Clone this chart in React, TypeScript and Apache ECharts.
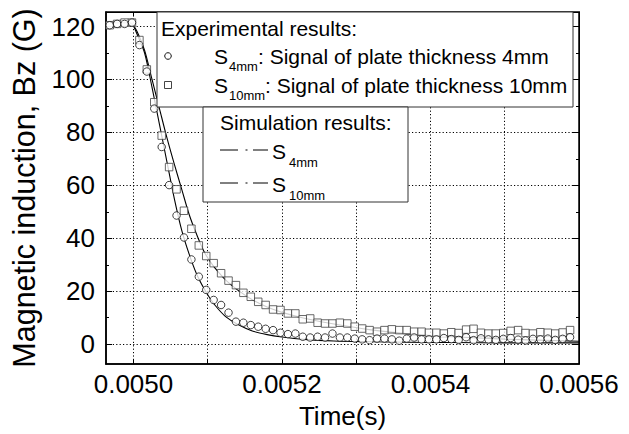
import React, { useEffect, useRef } from "react";
import * as echarts from "echarts";

// ---- data ----
const expTime = [
  0.004968, 0.004978, 0.004988, 0.004998, 0.005008, 0.005018, 0.005028, 0.005038, 0.005048, 0.005058,
  0.005068, 0.005078, 0.005088, 0.005098, 0.005108, 0.005118, 0.005128, 0.005138, 0.005148, 0.005158,
  0.005168, 0.005178, 0.005188, 0.005198, 0.005208, 0.005218, 0.005228, 0.005238, 0.005248, 0.005258,
  0.005268, 0.005278, 0.005288, 0.005298, 0.005308, 0.005318, 0.005328, 0.005338, 0.005348, 0.005358,
  0.005368, 0.005378, 0.005388, 0.005398, 0.005408, 0.005418, 0.005428, 0.005438, 0.005448, 0.005458,
  0.005468, 0.005478, 0.005488, 0.005498, 0.005508, 0.005518, 0.005528, 0.005538, 0.005548, 0.005558,
  0.005568, 0.005578, 0.005588,
];
const exp4mm = [
  120.5, 121, 121, 121.5, 113, 103, 89, 74.5, 60.1, 48.6,
  40.3, 32, 25.5, 20.5, 16.7, 14.8, 11.9, 8.5, 8.1, 7.2,
  6.6, 5.8, 5.3, 4.3, 3.8, 4.0, 2.8, 2.5, 2.8, 2.5,
  4.0, 2.5, 2.5, 2.1, 1.8, 1.5, 2.1, 2.1, 1.8, 1.3,
  2.1, 2.5, 1.8, 1.8, 1.8, 2.3, 1.9, 1.6, 2.6, 1.5,
  2.2, 1.8, 1.6, 2.0, 2.3, 1.7, 1.4, 2.0, 1.8, 2.1,
  1.6, 2.0, 2.6,
];
const exp10mm = [
  120.5, 121, 121.5, 121.5, 114.9, 103.8, 91.4, 78.8, 66.9, 58.5,
  50.4, 43.6, 37.3, 33.3, 30.6, 26.8, 24.0, 22.3, 19.4, 17.9,
  16.0, 14.8, 13.1, 12.9, 11.6, 11.6, 9.4, 9.7, 8.1, 7.8,
  7.8, 8.1, 7.8, 6.6, 5.9, 5.3, 4.7, 5.3, 5.6, 5.3,
  5.3, 4.7, 4.7, 4.3, 4.3, 4.0, 4.5, 4.2, 5.5, 5.8,
  4.3, 4.0, 4.0, 4.2, 5.0, 5.3, 4.2, 4.0, 4.5, 4.3,
  4.0, 4.4, 5.3,
];
const simTime = [
  0.004968, 0.00499, 0.004998, 0.005005, 0.005015, 0.005025, 0.005035, 0.005045, 0.005055, 0.005065,
  0.005075, 0.005085, 0.005095, 0.005105, 0.005115, 0.005125, 0.00514, 0.00516, 0.00518, 0.0052,
  0.00523, 0.00527, 0.00532, 0.00537, 0.00543, 0.0055, 0.0056,
];
const sim4mm = [
  121.5, 121.5, 121, 117, 110, 97, 83, 69, 55, 43,
  34, 26.5, 21, 16.5, 13, 10.2, 7.5, 5.0, 3.6, 2.7,
  1.8, 1.2, 0.9, 0.7, 0.6, 0.5, 0.5,
];
const sim10mm = [
  121.5, 121.5, 121, 118, 111, 100, 89, 78, 68, 58.5,
  49, 41.5, 35, 30.5, 27, 24, 20.5, 16.8, 14, 12,
  9.8, 7.6, 5.4, 3.9, 2.8, 1.9, 1.1,
];
const xTickLabels = [0.005, 0.0052, 0.0054, 0.0056];
const xTickMarks = [0.005, 0.0051, 0.0052, 0.0053, 0.0054, 0.0055, 0.0056];
const yTickLabels = [0, 20, 40, 60, 80, 100, 120];
const yMinorTicks = [10, 30, 50, 70, 90, 110];

const FONT = "'Liberation Sans', Arial, Helvetica, sans-serif";

const zip = (xs: number[], ys: number[]) => xs.map((x, i) => [x, ys[i]]);

export default function App() {
  const ref = useRef<HTMLDivElement>(null);
  useEffect(() => {
    if (!ref.current) return;
    const chart = echarts.init(ref.current, undefined, { renderer: "svg" });
    const X_MIN = 0.004963, X_MAX = 0.0056, Y_MIN = -7.5, Y_MAX = 125.5;
    const dotted = { color: "#000", width: 1, type: [1.2, 2.2] as any };
    const txt = (text: string, x: number, y: number, size: number) => ({
      type: "text", x, y, z: 101,
      style: { text, fontSize: size, fontFamily: FONT, fill: "#000", verticalAlign: "middle", align: "left" },
    });
    const dashDot = (y: number) => [
      { type: "line", z: 101, shape: { x1: 220, y1: y, x2: 238, y2: y }, style: { stroke: "#000", lineWidth: 1 } },
      { type: "line", z: 101, shape: { x1: 245.5, y1: y, x2: 247.5, y2: y }, style: { stroke: "#000", lineWidth: 1 } },
      { type: "line", z: 101, shape: { x1: 253, y1: y, x2: 268, y2: y }, style: { stroke: "#000", lineWidth: 1 } },
    ];
    const xFmt = (v: number) => {
      const m = v * 1e4;
      const r = Math.round(m);
      return Math.abs(m - r) < 1e-6 && r % 2 === 0 ? v.toFixed(4) : "";
    };
    const yFmt = (v: number) => (Math.abs(v % 20) < 1e-9 ? String(v) : "");
    const option: any = {
      animation: false,
      backgroundColor: "#fff",
      grid: { left: 101, right: 50, top: 12, bottom: 70, show: true, borderColor: "#000", borderWidth: 1.5 },
      xAxis: [
        {
          type: "value", min: X_MIN, max: X_MAX, minInterval: 0.0001, maxInterval: 0.0001,
          axisLine: { show: true, onZero: false, lineStyle: { color: "#000", width: 1.5 } },
          axisTick: { show: true, inside: true, length: 4, customValues: xTickMarks, lineStyle: { color: "#000" } },
          axisLabel: { customValues: xTickLabels, formatter: xFmt, fontSize: 26, color: "#000", fontFamily: FONT, margin: 7 },
          splitLine: { show: true, lineStyle: dotted },
          name: "Time(s)", nameLocation: "middle", nameGap: 39,
          nameTextStyle: { fontSize: 26, color: "#000", fontFamily: FONT },
        },
        {
          type: "value", position: "top", min: X_MIN, max: X_MAX, minInterval: 0.0001, maxInterval: 0.0001,
          axisLine: { show: true, onZero: false, lineStyle: { color: "#000", width: 1 } },
          axisTick: { show: true, inside: true, length: 4, customValues: xTickMarks, lineStyle: { color: "#000" } },
          axisLabel: { show: false }, splitLine: { show: false },
        },
      ],
      yAxis: [
        {
          type: "value", min: Y_MIN, max: Y_MAX, minInterval: 20, maxInterval: 20,
          axisLine: { show: true, onZero: false, lineStyle: { color: "#000", width: 1.5 } },
          axisTick: { show: true, inside: true, length: 6, customValues: yTickLabels, lineStyle: { color: "#000" } },
          axisLabel: { customValues: yTickLabels, formatter: yFmt, fontSize: 26, color: "#000", fontFamily: FONT, margin: 11 },
          splitLine: { show: true, lineStyle: dotted },
          name: "Magnetic induction, Bz (G)", nameLocation: "middle", nameGap: 67,
          nameTextStyle: { fontSize: 30.5, color: "#000", fontFamily: FONT },
        },
        {
          type: "value", position: "right", min: Y_MIN, max: Y_MAX, minInterval: 20, maxInterval: 20,
          axisLine: { show: true, onZero: false, lineStyle: { color: "#000", width: 1 } },
          axisTick: { show: true, inside: true, length: 6, customValues: yTickLabels, lineStyle: { color: "#000" } },
          axisLabel: { show: false }, splitLine: { show: false },
        },
        {
          type: "value", position: "left", min: Y_MIN, max: Y_MAX,
          axisLine: { show: false, onZero: false },
          axisTick: { show: true, inside: true, length: 3, customValues: yMinorTicks, lineStyle: { color: "#000" } },
          axisLabel: { show: false }, splitLine: { show: false },
        },
        {
          type: "value", position: "right", min: Y_MIN, max: Y_MAX,
          axisLine: { show: false, onZero: false },
          axisTick: { show: true, inside: true, length: 3, customValues: yMinorTicks, lineStyle: { color: "#000" } },
          axisLabel: { show: false }, splitLine: { show: false },
        },
      ],
      series: [
        {
          name: "Sim 10mm", type: "line", data: zip(simTime, sim10mm), showSymbol: false, smooth: 0.3,
          lineStyle: { color: "#000", width: 1.1 }, z: 2,
        },
        {
          name: "Sim 4mm", type: "line", data: zip(simTime, sim4mm), showSymbol: false, smooth: 0.3,
          lineStyle: { color: "#000", width: 1.1 }, z: 2,
        },
        {
          name: "S10mm", type: "scatter", data: zip(expTime, exp10mm), symbol: "rect", symbolSize: 7.5,
          itemStyle: { color: "#fff", borderColor: "#444", borderWidth: 1 }, z: 3,
        },
        {
          name: "S4mm", type: "scatter", data: zip(expTime, exp4mm), symbol: "circle", symbolSize: 7.5,
          itemStyle: { color: "#fff", borderColor: "#111", borderWidth: 1 }, z: 4,
        },
      ],
      graphic: [
        { type: "rect", z: 100, shape: { x: 157, y: 12, width: 416, height: 95 }, style: { fill: "#fff", stroke: "#333", lineWidth: 1 } },
        { type: "rect", z: 100, shape: { x: 203, y: 107, width: 205, height: 95 }, style: { fill: "#fff", stroke: "#333", lineWidth: 1 } },
        txt("Experimental results:", 161, 28, 21),
        { type: "circle", z: 101, shape: { cx: 168, cy: 56, r: 3.3 }, style: { fill: "#fff", stroke: "#111", lineWidth: 1 } },
        txt("S", 214, 56, 21),
        txt("4mm", 229, 66, 13),
        txt(": Signal of plate thickness 4mm", 258, 56, 21),
        { type: "rect", z: 101, shape: { x: 164.5, y: 81.5, width: 7, height: 7 }, style: { fill: "#fff", stroke: "#444", lineWidth: 1 } },
        txt("S", 214, 85, 21),
        txt("10mm", 229, 95, 13),
        txt(": Signal of plate thickness 10mm", 265, 85, 21),
        txt("Simulation results:", 220, 122, 21),
        ...dashDot(150),
        txt("S", 272, 151, 21),
        txt("4mm", 289, 162, 13),
        ...dashDot(183),
        txt("S", 272, 184, 21),
        txt("10mm", 289, 195, 13),
      ],
    };
    chart.setOption(option);
    return () => chart.dispose();
  }, []);
  return (
    <div
      ref={ref}
      style={{ position: "fixed", left: 0, top: 0, width: 629, height: 434, background: "#fff" }}
    />
  );
}
